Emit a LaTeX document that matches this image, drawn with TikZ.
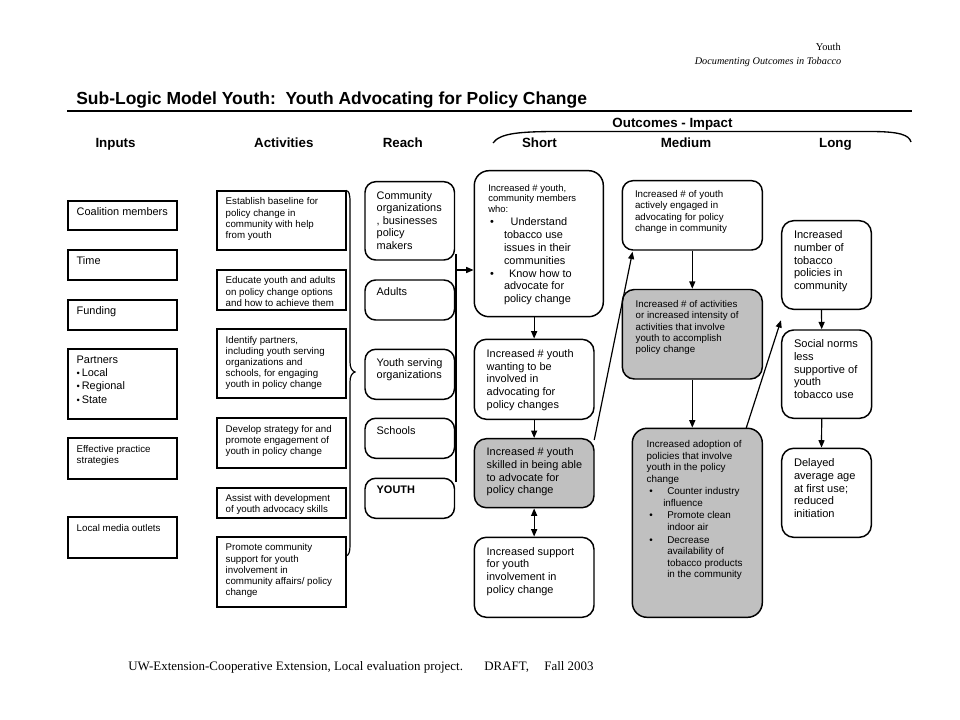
\documentclass[tikz,border=0pt]{standalone}
\usepackage{fontspec}
\setmainfont{Liberation Serif}
\newfontfamily\arial{Liberation Sans}
\usetikzlibrary{arrows.meta,fit,calc}
\definecolor{boxgray}{RGB}{192,192,192}
\newcommand{\tfont}[2]{\arial\fontsize{#1}{#2}\selectfont}
\newcommand{\sbul}{{\fontsize{7}{7}\selectfont\textbullet}\,}
\newcommand{\bul}[1]{\llap{\textbullet\hspace{#1}}}
\begin{document}
\begin{tikzpicture}[x=0.75pt,y=-0.75pt,
  sq/.style={draw, line width=1.3pt, inner sep=0pt},
  rd/.style={draw, line width=1.1pt, rounded corners=#1, inner sep=0pt},
  rd/.default=8pt,
  gr/.style={fill=boxgray},
  tx/.style={anchor=north west, inner sep=0pt, outer sep=0pt, align=left},
  hd/.style={anchor=base, inner sep=0pt, font=\arial\bfseries\fontsize{10}{12}\selectfont},
  fin/.style={font=\tfont{8.2}{10}},
  fins/.style={font=\tfont{7.3}{8.3}},
  fact/.style={font=\tfont{7.3}{8.4}},
  freach/.style={font=\tfont{8.2}{9.4}},
  fsh/.style={font=\tfont{7.1}{8}},
  fsb/.style={font=\tfont{8.2}{9.6}},
  fsc/.style={font=\tfont{8.2}{9.5}},
  fmd/.style={font=\tfont{7.3}{8.5}},
  fm3/.style={font=\tfont{7.4}{8.6}},
  flg/.style={font=\tfont{8.3}{9.5}},
  arr/.style={line width=0.9pt, -{Triangle[length=5.5pt,width=4.5pt]}},
  darr/.style={line width=0.9pt, {Triangle[length=5.5pt,width=4.5pt]}-{Triangle[length=5.5pt,width=4.5pt]}},
  ln/.style={line width=0.9pt},
]
\useasboundingbox (0,0) rectangle (960,720);

% ---------- header ----------
\node[anchor=base east, inner sep=0pt, font=\fontsize{7.8}{9}\selectfont] (hyouth) at (841,50.5) {Youth};
\node[anchor=base east, inner sep=0pt, font=\itshape\fontsize{7.7}{9}\selectfont] (hdoc) at (841.5,64.5) {Documenting Outcomes in Tobacco};
\node[anchor=base west, inner sep=0pt, font=\arial\bfseries\fontsize{13.1}{15}\selectfont] (title) at (76,104.5) {Sub-Logic Model Youth:\ \ Youth Advocating for Policy Change};
\coordinate (rulel) at (67.3,111);
\coordinate (ruler) at (911.7,111);
\draw[line width=1.6pt] (rulel) -- (ruler);

\node[hd] (hout) at (672.5,127.5) {Outcomes - Impact};
\coordinate (obl) at (493,143);
\coordinate (obr) at (911,142);
\draw[line width=1pt] (obl) .. controls (500,133) and (520,131.5) .. (560,131.5) -- (870,131.5) .. controls (900,131.5) and (909,135) .. (obr);

\node[hd] (hin) at (115.5,148) {Inputs};
\node[hd] (hact) at (283.8,148) {Activities};
\node[hd] (hreach) at (402.8,148) {Reach};
\node[hd] (hshort) at (539.4,148) {Short};
\node[hd] (hmed) at (686,148) {Medium};
\node[hd] (hlong) at (835.4,148) {Long};

% ---------- inputs ----------
\node[sq, fit={(68.3,200.7) (177.3,230.3)}] (I1) {};
\node[sq, fit={(68.3,250) (177.3,280)}] (I2) {};
\node[sq, fit={(68.3,300) (177.3,330)}] (I3) {};
\node[sq, fit={(68.3,349.3) (177.3,419)}] (I4) {};
\node[sq, fit={(68.3,438.3) (177.3,478.7)}] (I5) {};
\node[sq, fit={(68.3,517.3) (177.3,558)}] (I6) {};
\node[tx, fin] (tI1) at (76.7,207.4) {Coalition members};
\node[tx, fin] (tI2) at (76.7,256.7) {Time};
\node[tx, fin] (tI3) at (76.7,306.4) {Funding};
\node[tx, fin] (tI4) at (76.7,355.7) {Partners\\\sbul Local\\\sbul Regional\\\sbul State};
\node[tx, fins] (tI5) at (76.7,445.5) {Effective practice\\strategies};
\node[tx, fins] (tI6) at (76.7,524.1) {Local media outlets};

% ---------- activities ----------
\node[sq, fit={(216.7,190.7) (346,250)}] (A1) {};
\node[sq, fit={(216.7,270) (346,310)}] (A2) {};
\node[sq, fit={(216.7,329.3) (346,398.3)}] (A3) {};
\node[sq, fit={(216.7,418.3) (346,468.3)}] (A4) {};
\node[sq, fit={(216.7,487.7) (346,517.7)}] (A5) {};
\node[sq, fit={(216.7,537.3) (346,607.3)}] (A6) {};
\node[tx, fact] (tA1) at (225.7,197.8) {Establish baseline for\\policy change in\\community with help\\from youth};
\begin{scope}
  \clip (217,271) rectangle (345,305.5);
  \node[tx, fact] (tA2) at (225.7,276.8) {Educate youth and adults\\on policy change options\\and how to achieve them};
\end{scope}
\node[tx, fact] (tA3) at (225.7,336.1) {Identify partners,\\including youth serving\\organizations and\\schools, for engaging\\youth in policy change};
\node[tx, fact] (tA4) at (225.7,425.4) {Develop strategy for and\\promote engagement of\\youth in policy change};
\begin{scope}
  \clip (217,488) rectangle (345,513);
  \node[tx, fact] (tA5) at (225.7,494.4) {Assist with development\\of youth advocacy skills};
\end{scope}
\node[tx, fact] (tA6) at (225.7,543.8) {Promote community\\support for youth\\involvement in\\community affairs/ policy\\change};

% brace
\coordinate (bt) at (346,190.5);
\coordinate (btip) at (355,372);
\coordinate (bb) at (346,556);
\draw[ln] (bt) .. controls (349,191) and (350,194) .. (350,202) -- (350,362) .. controls (350,368) and (352,371) .. (btip) .. controls (352,373) and (350,376) .. (350,382) -- (350,545) .. controls (350,552) and (349,555) .. (bb);

% ---------- reach ----------
\node[rd, fit={(365,181.7) (454.5,260)}] (R1) {};
\node[rd, fit={(365,280) (454.5,320)}] (R2) {};
\node[rd, fit={(365,349.3) (454.5,399.3)}] (R3) {};
\node[rd, fit={(365,418.3) (454.5,458.3)}] (R4) {};
\node[rd, fit={(365,478.3) (454.5,518.3)}] (R5) {};
\node[tx, freach] (tR1) at (376.7,191.3) {Community\\organizations\\, businesses\\policy\\makers};
\node[tx, freach] (tR2) at (376.7,287.9) {Adults};
\node[tx, freach] (tR3) at (376.7,358.3) {Youth serving\\organizations};
\node[tx, freach] (tR4) at (376.7,426.3) {Schools};
\node[tx, freach] (tR5) at (376.7,485.6) {\bfseries YOUTH};

\coordinate (rtop) at (456,254);
\coordinate (rbot) at (456,482);
\coordinate (rj) at (456,270);
\draw[ln] (rtop) -- (rbot);

% ---------- short ----------
\node[rd=11pt, fit={(474.3,170.7) (603.3,316.7)}] (S1) {};
\node[rd=9pt, fit={(474.3,339.3) (594,419.3)}] (S2) {};
\node[rd=9pt, gr, fit={(474.3,438.7) (594,507.7)}] (S3) {};
\node[rd=9pt, fit={(474.3,537.3) (594,617.3)}] (S4) {};
\node[tx, fsh] (tS1a) at (488.3,184.2) {Increased \# youth,\\community members\\who:};
\node[tx, fsb] (tS1b) at (504,217.9) {\bul{7.5pt}\hspace{5pt}Understand\\tobacco use\\issues in their\\communities\\\bul{7.5pt}\hspace{3.8pt}Know how to\\advocate for\\policy change};
\node[tx, fsc] (tS2) at (486.7,349.6) {Increased \# youth\\wanting to be\\involved in\\advocating for\\policy changes};
\node[tx, fsc] (tS3) at (486.7,447.9) {Increased \# youth\\skilled in being able\\to advocate for\\policy change};
\node[tx, fsc] (tS4) at (486.7,547.3) {Increased support\\for youth\\involvement in\\policy change};

% ---------- medium ----------
\node[rd=8pt, fit={(622.3,180.7) (762.3,250)}] (M1) {};
\node[rd=9pt, gr, fit={(622.3,289.5) (762.3,379)}] (M2) {};
\node[rd=11pt, gr, fit={(632.3,428.3) (762.3,617.3)}] (M3) {};
\node[tx, fmd] (tM1) at (635,190.4) {Increased \# of youth\\actively engaged in\\advocating for policy\\change in community};
\node[tx, fmd] (tM2) at (635.7,300.4) {Increased \# of activities\\or increased intensity of\\activities that involve\\youth to accomplish\\policy change};
\node[tx, fm3] (tM3) at (646.7,440.8) {Increased adoption of\\policies that involve\\youth in the policy\\change};
\node[tx, fm3] (tM3a) at (663.3,487.4) {\bul{7.9pt}\hspace{3pt}Counter industry\\influence};
\node[tx, fm3] (tM3b) at (667.3,511.8) {\bul{10.9pt}Promote clean\\indoor air};
\node[tx, fm3] (tM3c) at (667.3,536.4) {\bul{10.9pt}Decrease\\availability of\\tobacco products\\in the community};

% ---------- long ----------
\node[rd=9pt, fit={(781.7,220.7) (871.3,309.3)}] (L1) {};
\node[rd=9pt, fit={(781.7,330) (871.7,418.3)}] (L2) {};
\node[rd=9pt, fit={(781.7,448.3) (871.3,537.3)}] (L3) {};
\node[tx, flg] (tL1) at (794,230.9) {Increased\\number of\\tobacco\\policies in\\community};
\node[tx, flg] (tL2) at (794,339.9) {Social norms\\less\\supportive of\\youth\\tobacco use};
\node[tx, flg] (tL3) at (794,458.9) {Delayed\\average age\\at first use;\\reduced\\initiation};

% ---------- footer ----------
\node[anchor=base west, inner sep=0pt, font=\fontsize{9.7}{11}\selectfont] (foot) at (128,670.5) {UW-Extension-Cooperative Extension, Local evaluation project.\hspace{16pt}DRAFT,\hspace{11.5pt}Fall 2003};

% ---------- connectors ----------
\draw[arr] (rj) -- (rj -| S1.west);
\draw[arr] (S2.north |- S1.south) -- (S2.north);
\draw[arr] (S2.south) -- (S3.north);
\draw[darr] (S3.south) -- (S4.north);
\draw[arr] ($(S3.north east)+(-0.5,2)$) -- ($(M1.south west)+(11,1)$);
\draw[arr] (M1.south) -- (M2.north);
\draw[arr] (M2.south) -- (M2.south |- M3.north);
\draw[arr] ($(M3.north east)+(-17,1)$) -- ($(L2.north west)+(0,-9)$);
\draw[arr] ($(L1.south)+(-5,0)$) -- ($(L2.north)+(-5,0)$);
\draw[arr] ($(L2.south)+(-5,0)$) -- ($(L3.north)+(-5,0)$);
\end{tikzpicture}
\end{document}
